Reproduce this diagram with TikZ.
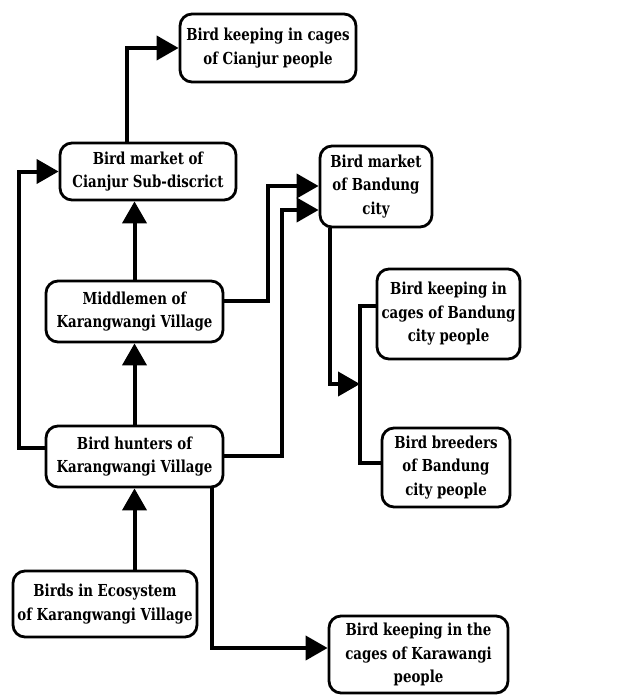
\documentclass[tikz,border=0pt]{standalone}
\usepackage{fontspec}
\setmainfont{DejaVu Serif Condensed}[FakeStretch=0.9]
\usetikzlibrary{arrows.meta}
\tikzset{
  box/.style={draw, line width=2.8pt, rounded corners=12pt, align=center, inner sep=0pt,
    font=\bfseries\fontsize{16.5}{23.5}\selectfont},
  arr/.style={line width=4pt, -{Triangle[length=22pt,width=24pt]}},
  ln/.style={line width=4pt}
}
\begin{document}
\begin{tikzpicture}[x=1pt,y=-1pt]
\useasboundingbox (0,0) rectangle (628,695);
\node[box, minimum width=176pt, minimum height=68pt] (keepC) at (268,48) {Bird keeping in cages\\of Cianjur people};
\node[box, minimum width=176pt, minimum height=57pt] (mktC) at (148,171.5) {Bird market of\\Cianjur Sub-discrict};
\node[box, minimum width=112pt, minimum height=81pt] (mktB) at (376,186.5) {Bird market\\of Bandung\\city};
\node[box, minimum width=177pt, minimum height=61pt] (mid) at (134.5,311.5) {Middlemen of\\Karangwangi Village};
\node[box, minimum width=177pt, minimum height=61pt] (hunt) at (134.5,456.5) {Bird hunters of\\Karangwangi Village};
\node[box, minimum width=143pt, minimum height=90pt] (keepB) at (448.5,314) {Bird keeping in\\cages of Bandung\\city people};
\node[box, minimum width=128pt, minimum height=79pt] (breed) at (446,467.5) {Bird breeders\\of Bandung\\city people};
\node[box, minimum width=184pt, minimum height=66pt] (eco) at (105,604) {Birds in Ecosystem\\of Karangwangi Village};
\node[box, minimum width=179pt, minimum height=77pt] (keepK) at (418.5,654.5) {Bird keeping in the\\cages of Karawangi\\people};

\coordinate (split) at (360,384);

\draw[arr] (mktC.north -| 127,0) |- (keepC.west);
\draw[arr] (hunt.west |- 0,448) -- (19,448) |- (mktC.west);
\draw[arr] (mid.north) -- (mid.north |- mktC.south);
\draw[arr] (hunt.north) -- (mid.south);
\draw[arr] (eco.north -| hunt.south) -- (hunt.south);
\draw[arr] (mid.east |- 0,301) -| (268,186) -- (mktB.west |- 0,186);
\draw[arr] (hunt.east |- 0,456) -| (282,210) -- (mktB.west |- 0,210);
\draw[arr] (mktB.south -| 330,0) |- (split);
\draw[ln] (keepB.west |- 0,306) -| (split) |- (breed.west |- 0,463);
\draw[arr] (hunt.south -| 212,0) |- (keepK.west |- 0,648);
\end{tikzpicture}
\end{document}
